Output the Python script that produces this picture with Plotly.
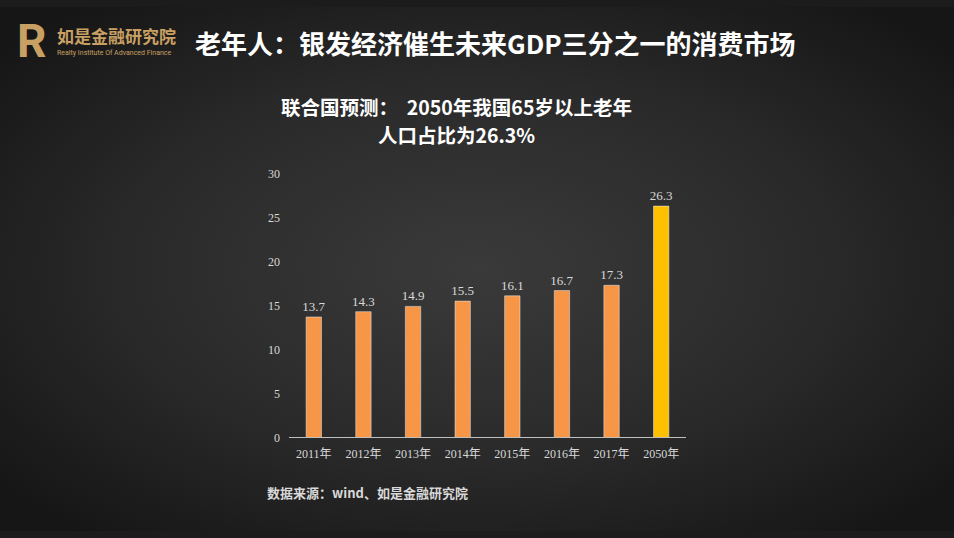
import plotly.graph_objects as go
import base64

categories = ["2011年", "2012年", "2013年", "2014年", "2015年", "2016年", "2017年", "2050年"]
values = [13.7, 14.3, 14.9, 15.5, 16.1, 16.7, 17.3, 26.3]
bar_colors = ["#F79646"] * 7 + ["#FFC000"]
y_ticks = [0, 5, 10, 15, 20, 25, 30]

W, H = 954, 538

svg = f'''<svg xmlns="http://www.w3.org/2000/svg" width="{W}" height="{H}">
<defs><radialGradient id="g" cx="0.5" cy="0.5" r="0.65">
<stop offset="0" stop-color="#3a3a3a"/><stop offset="0.55" stop-color="#2a2a2a"/><stop offset="1" stop-color="#161616"/>
</radialGradient></defs>
<rect width="{W}" height="{H}" fill="url(#g)"/></svg>'''
bg_uri = "data:image/svg+xml;base64," + base64.b64encode(svg.encode()).decode()

def px(x):
    return x / W

def py(y):
    return 1 - y / H

serif = "Liberation Serif, Noto Sans CJK SC, serif"
sans_cjk = "Noto Sans CJK SC, sans-serif"

fig = go.Figure()
fig.add_trace(go.Bar(
    x=categories, y=values, marker_color=bar_colors, width=0.31,
    text=[f"{v:.1f}" for v in values], textposition="outside",
    constraintext="none",
    textfont=dict(family=serif, size=13, color="#d9d9d9"),
    cliponaxis=False, hoverinfo="skip",
))

fig.update_layout(
    autosize=True,
    margin=dict(l=0, r=0, t=0, b=0),
    paper_bgcolor="#1c1c1c", plot_bgcolor="rgba(0,0,0,0)",
    showlegend=False,
    xaxis=dict(domain=[px(289), px(686)], showgrid=False, showline=True,
               linecolor="#bfbfbf", linewidth=1, ticks="",
               ticklabelstandoff=5,
               tickfont=dict(family=serif, size=12, color="#d9d9d9")),
    yaxis=dict(domain=[py(442), py(171)], range=[0, 30], tickvals=y_ticks,
               showgrid=False, zeroline=False, showline=False, ticks="",
               ticklabelstandoff=8,
               tickfont=dict(family=serif, size=12, color="#d9d9d9")),
    images=[dict(source=bg_uri, xref="paper", yref="paper", x=0, y=1,
                 sizex=1, sizey=1, sizing="stretch", layer="below")],
)

annotations = [
    dict(text="<b>老年人：银发经济催生未来GDP三分之一的消费市场</b>", x=px(193), y=py(36),
         xanchor="left", yanchor="middle", font=dict(family=sans_cjk, size=26, color="#ffffff")),
    dict(text="<b>R</b>", x=px(15), y=py(35), xanchor="left", yanchor="middle",
         font=dict(family="Roboto, sans-serif", size=46, color="#c9a063")),
    dict(text="<b>如是金融研究院</b>", x=px(55), y=py(29), xanchor="left", yanchor="middle",
         font=dict(family=sans_cjk, size=17, color="#c9a063")),
    dict(text="Realty Institute Of Advanced Finance", x=px(55), y=py(47), xanchor="left", yanchor="middle",
         font=dict(family="Roboto, sans-serif", size=7, color="#c9a063")),
    dict(text="<b>联合国预测：  2050年我国65岁以上老年</b>", x=px(456), y=py(102),
         xanchor="center", yanchor="middle",
         font=dict(family=sans_cjk, size=19.5, color="#ffffff")),
    dict(text="<b>人口占比为26.3%</b>", x=px(456), y=py(131),
         xanchor="center", yanchor="middle",
         font=dict(family=sans_cjk, size=19.5, color="#ffffff")),
    dict(text="<b>数据来源：wind、如是金融研究院</b>", x=px(265), y=py(498),
         xanchor="left", yanchor="middle",
         font=dict(family="Noto Sans CJK SC, serif", size=13, color="#d9d9d9")),
]
for a in annotations:
    a.update(xref="paper", yref="paper", showarrow=False)
fig.update_layout(annotations=annotations)

post = ("document.documentElement.style.margin='0';document.documentElement.style.overflow='hidden';"
        "document.body.style.margin='0';document.body.style.overflow='hidden';"
        "document.documentElement.style.background='#1c1c1c';"
        "document.body.style.background='#1c1c1c';"
        "Plotly.Plots.resize(document.getElementById('{plot_id}'));")

fig.write_html("out.html", default_width="100vw", default_height="100vh",
               config={"displayModeBar": False, "responsive": True},
               post_script=post)
